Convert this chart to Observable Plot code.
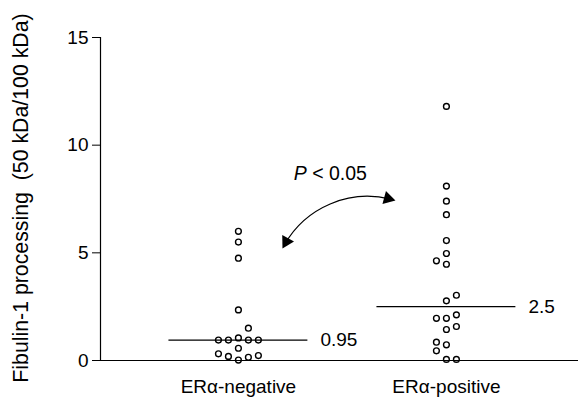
<!DOCTYPE html>
<html>
<head>
<meta charset="utf-8">
<script src="https://cdn.jsdelivr.net/npm/d3@7"></script>
<script src="https://cdn.jsdelivr.net/npm/@observablehq/plot@0.6"></script>
<style>
  html, body { margin: 0; padding: 0; background: white; }
</style>
</head>
<body>
<div id="chart"></div>
<script>
// ---- data ----
const groups = ["ERα-negative", "ERα-positive"];
const negValues = [6.0, 5.5, 4.75, 2.35, 1.5, 0.95, 0.95, 1.05, 0.95, 0.95, 0.57, 0.31, 0.19, 0.02, 0.15, 0.23];
const negLanes  = [0,   0,   0,    0,    1,   -2,   -1,   0,    1,    2,    0,    -2,   -1,   0,    1,    2];
const posValues = [11.8, 8.1, 7.4, 6.77, 5.57, 4.97, 4.63, 4.47, 3.03, 2.77, 1.96, 1.96, 2.12, 1.44, 1.58, 0.85, 0.73, 0.45, 0.05, 0.05];
const posLanes  = [0,    0,   0,   0,    0,    0,    -1,   0,    1,    0,    -1,   0,    1,    0,    1,    -1,   0,    -1,   0,    1];
const medians = [0.95, 2.5];
const medianLabels = ["0.95", "2.5"];
const yTicks = [0, 5, 10, 15];
const yLabel = "Fibulin-1 processing\u00a0 (50 kDa/100 kDa)";
const pText = "P < 0.05";
// annotation (data coordinates: x in group units, y in ratio units)
const pTextPos = [0.442, 8.69];
const arcEnds = [0.2115, 5.20, 0.755, 7.43];
const arrowHeads = [
  {x: 0.230, y: 5.52, rot: 209},
  {x: 0.719, y: 7.52, rot: 105}
];

// ---- build ----
const laneStep = 0.048;
const halfLine = 0.334;
const points = [
  ...negValues.map((v, i) => ({g: 0, v, lane: negLanes[i]})),
  ...posValues.map((v, i) => ({g: 1, v, lane: posLanes[i]}))
];
const medData = medians.map((v, i) => ({g: i, v, label: medianLabels[i]}));
const xDomain = [-0.663, 1.635];

const chart = Plot.plot({
  width: 583,
  height: 399,
  marginLeft: 100,
  marginRight: 5,
  marginTop: 37,
  marginBottom: 39,
  style: {fontFamily: "'Liberation Sans', Arial, Helvetica, sans-serif", fontSize: "19px", color: "black", background: "white"},
  x: {domain: xDomain},
  y: {domain: [0, 15]},
  marks: [
    Plot.axisX([0, 1], {tickSize: 0, tickPadding: 19, tickFormat: i => groups[i], fontSize: 19, label: null}),
    Plot.axisY(yTicks, {tickSize: 8, tickPadding: 4, fontSize: 19, label: null}),
    Plot.text([yLabel], {frameAnchor: "left", dx: -79, dy: -1, rotate: -90, textAnchor: "middle", lineAnchor: "middle", fontSize: 21.3}),
    Plot.ruleX([xDomain[0]], {stroke: "black", strokeWidth: 1.2}),
    Plot.ruleY([0], {stroke: "black", strokeWidth: 1.2}),
    Plot.ruleY(medData, {y: "v", x1: d => d.g - halfLine, x2: d => d.g + halfLine, stroke: "black", strokeWidth: 1.3}),
    Plot.text(medData, {x: "g", y: "v", text: "label", dx: 82, textAnchor: "start", fontSize: 19}),
    Plot.dot(points, {x: d => d.g + d.lane * laneStep, y: "v", r: 2.9, stroke: "black", strokeWidth: 1.4, fill: "none"}),
    Plot.arrow([arcEnds], {x1: d => d[0], y1: d => d[1], x2: d => d[2], y2: d => d[3], bend: 40, headLength: 0, insetStart: 5, insetEnd: 5, stroke: "black", strokeWidth: 1.2}),
    Plot.dot(arrowHeads, {x: "x", y: "y", symbol: "triangle", r: 5, fill: "black", stroke: "none", rotate: "rot"}),
    Plot.text([pText], {x: () => pTextPos[0], y: () => pTextPos[1], text: d => d, fontSize: 19.5})
  ]
});

chart.querySelectorAll("text").forEach(t => {
  if (t.textContent === pText) {
    t.innerHTML = '<tspan font-style="italic">P</tspan> &lt; 0.05';
  }
});
document.getElementById("chart").appendChild(chart);
</script>
</body>
</html>
